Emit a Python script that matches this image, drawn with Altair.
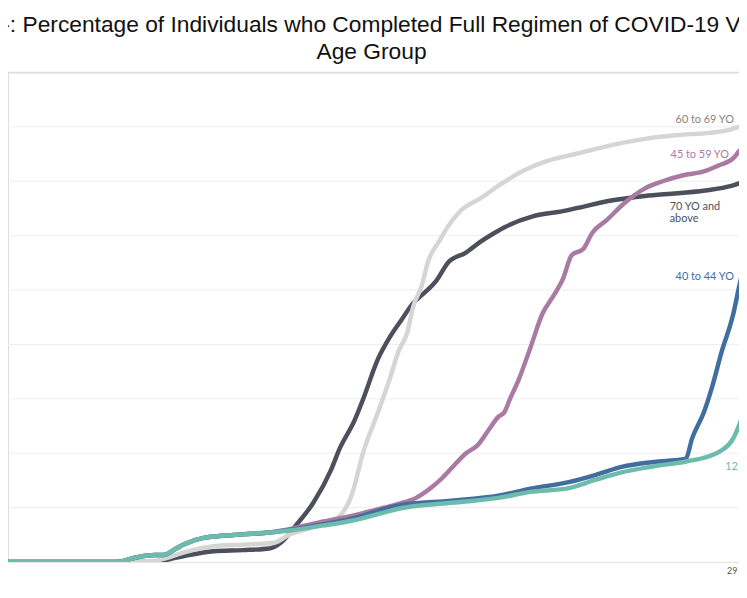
import altair as alt
import pandas as pd

# ---- data (x = day index, y = percent) ----
series_names = ["70 YO and above", "60 to 69 YO", "45 to 59 YO", "40 to 44 YO", "12 to 39 YO"]
series_colors = ["#4c505c", "#d5d5d5", "#a97aa2", "#3f6e9f", "#6cbbad"]

days_70 = [0, 52, 54, 60, 70, 80, 89, 93, 98, 104, 110, 113, 118, 121, 126, 130, 134, 138, 141, 146,
           150, 156, 161, 167, 169, 179, 189, 194, 206, 217, 228, 239, 246, 249, 253]
pct_70 = [0, 0, 0.4, 1.1, 2.0, 2.2, 2.5, 3.6, 6.7, 10.9, 16.9, 20.9, 26.0, 30.0, 37.3, 41.3, 44.5, 47.6, 49.1, 51.8,
          55.1, 56.9, 58.9, 60.9, 61.5, 63.6, 64.5, 65.1, 66.5, 67.3, 67.8, 68.4, 69.1, 69.6, 70.2]

days_60 = [0, 47, 53, 60, 70, 80, 89, 91, 96, 100, 107, 113, 117, 121, 126, 130, 133, 136, 138,
           141, 143, 147, 150, 154, 161, 168, 174, 183, 194, 206, 217, 228, 239, 246, 249, 253]
pct_60 = [0, 0, 0.6, 1.8, 2.9, 3.2, 3.45, 3.6, 5.1, 5.8, 6.9, 8.5, 12.2, 20.2, 27.5, 33.6, 38.7, 42.2, 46.9,
          50.9, 55.1, 59.1, 61.8, 64.5, 66.9, 69.5, 71.5, 73.6, 75.1, 76.7, 77.8, 78.5, 78.9, 79.5, 80.0, 80.5]

days_45 = [0, 37, 44, 50, 53, 57, 60, 67, 70, 80, 89, 97, 106, 117, 128, 133, 139, 144, 148, 152,
           156, 160, 164, 167, 169, 171, 174, 178, 182, 186, 189, 192, 196, 199, 204, 210, 217, 223, 230, 237,
           242, 247, 249, 253]
pct_45 = [0, 0, 0.9, 1.3, 1.3, 2.4, 3.3, 4.5, 4.7, 5.1, 5.45, 6.2, 7.3, 8.5, 10.0, 10.7, 11.8, 13.6, 15.5, 17.8,
          20.0, 21.5, 24.5, 26.7, 27.5, 30.0, 33.6, 39.5, 45.6, 49.1, 52.0, 56.4, 57.6, 60.5, 62.9, 66.0, 68.7, 70.0,
          71.1, 71.8, 72.9, 74.2, 75.5, 77.3]

days_40 = [0, 37, 44, 50, 53, 57, 60, 67, 70, 80, 89, 97, 107, 117, 133, 151, 167, 178, 191, 200,
           209, 220, 230, 231, 233, 237, 240, 243, 247, 249, 253]
pct_40 = [0, 0, 0.9, 1.3, 1.3, 2.4, 3.3, 4.5, 4.7, 5.1, 5.45, 6.0, 6.9, 8.0, 10.4, 11.3, 12.2, 13.5, 14.7, 16.0,
          17.5, 18.4, 18.9, 19.1, 22.7, 27.5, 32.5, 38.5, 45.5, 50.5, 59.1]

days_12 = [0, 37, 44, 50, 53, 57, 60, 67, 70, 80, 89, 96, 107, 117, 128, 133, 151, 167, 178, 191,
           200, 209, 220, 231, 239, 243, 247, 249, 253]
pct_12 = [0, 0, 0.9, 1.3, 1.3, 2.4, 3.3, 4.5, 4.7, 5.1, 5.45, 5.8, 6.7, 7.6, 9.1, 9.8, 10.9, 11.8, 12.9, 13.6,
          15.1, 16.5, 17.6, 18.5, 19.5, 20.5, 22.7, 25.1, 31.8]

series_days = [days_70, days_60, days_45, days_40, days_12]
series_pcts = [pct_70, pct_60, pct_45, pct_40, pct_12]

label_texts = ["60 to 69 YO", "45 to 59 YO", "70 YO and", "above", "40 to 44 YO", "12 to 39 YO"]
label_days = [227.4, 225.7, 225.4, 225.4, 227.4, 244.3]
label_pcts = [81.3, 74.9, 65.3, 63.1, 52.4, 17.5]
label_colors = ["#858585", "#a97aa2", "#4c505c", "#4c505c", "#3f6e9f", "#6cbbad"]

x_tick_values = [246.5]
x_tick_labels = ["29"]
y_grid_values = [0, 10, 20, 30, 40, 50, 60, 70, 80]
y_top_value = [90]

title_lines = ["-: Percentage of Individuals who Completed Full Regimen of COVID-19 V", "Age Group"]

# ---- chart ----
label_expr = " : ".join(
    [f"datum.value == {v} ? '{t}'" for v, t in zip(x_tick_values, x_tick_labels)] + ["''"]
)

x_enc = alt.X(
    "day:Q",
    scale=alt.Scale(domain=[0, 249], nice=False, zero=False),
    axis=alt.Axis(values=x_tick_values, labelExpr=label_expr, grid=False, domain=False, ticks=False,
                  labelFontSize=9, labelColor="#555555", labelFont="Lato", labelPadding=5,
                  labelFlush=False, labelOverlap=False, title=None),
)
y_enc = alt.Y("pct:Q", scale=alt.Scale(domain=[0, 90], nice=False), axis=None)

grid = alt.Chart(pd.DataFrame({"pct": y_grid_values})).mark_rule(color="#eeeeee", strokeWidth=1).encode(
    y=y_enc
)
top_rule = alt.Chart(pd.DataFrame({"pct": y_top_value})).mark_rule(color="#dddddd", strokeWidth=1.5).encode(
    y=y_enc
)
layers = [grid, top_rule]

# drawing order (bottom to top): dark, light, mauve, blue, teal
for name, color, d, p in zip(series_names, series_colors, series_days, series_pcts):
    df = pd.DataFrame({"day": d, "pct": p, "series": name})
    layers.append(
        alt.Chart(df).mark_line(color=color, strokeWidth=4.5, clip=True, strokeCap="round",
                                strokeJoin="round", interpolate="monotone").encode(
            x=x_enc, y=y_enc, detail="series:N"
        )
    )

lab_df = pd.DataFrame({"day": label_days, "pct": label_pcts, "label": label_texts, "color": label_colors})
labels = alt.Chart(lab_df).mark_text(align="left", baseline="middle", font="Lato", fontSize=11).encode(
    x=x_enc, y=y_enc, text="label:N", color=alt.Color("color:N", scale=None)
)
layers.append(labels)

chart = alt.layer(*layers).properties(
    width=739,
    height=495,
    autosize=alt.AutoSizeParams(type="none"),
    padding={"left": 0, "top": 62, "right": 0, "bottom": 20},
    title=alt.TitleParams(text=title_lines, fontSize=23, font="Liberation Sans", fontWeight="normal",
                          color="#111111", anchor="middle", frame="group", offset=8, lineHeight=27, dx=-2),
).configure_view(strokeWidth=0, stroke="transparent").configure(background="white")

chart.save("out.html", embed_options={"renderer": "svg", "actions": False})
